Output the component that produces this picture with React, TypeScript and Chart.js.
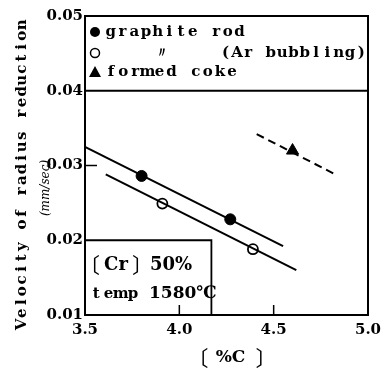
import React, { useEffect, useRef } from 'react';
import { Chart, registerables } from 'chart.js';

Chart.register(...registerables);

// ---- data ----
const graphiteX = [3.8, 4.27];
const graphiteY = [0.0286, 0.0228];
const arX = [3.91, 4.39];
const arY = [0.0249, 0.0188];
const cokeX = [4.6];
const cokeY = [0.032];
const graphiteFitX = [3.5, 4.55];
const graphiteFitY = [0.0325, 0.0192];
const arFitX = [3.61, 4.62];
const arFitY = [0.0288, 0.016];
const cokeFitX = [4.41, 4.82];
const cokeFitY = [0.0342, 0.0289];

const xMin = 3.5;
const xMax = 5.0;
const yMin = 0.01;
const yMax = 0.05;
const xStep = 0.5;
const yStep = 0.01;
const innerXTicks = [4.0, 4.5];
const innerYTicks = [0.03];
const legendTop = 0.04;
const insetRight = 4.17;
const insetTop = 0.02;

const legendText = ['graphite rod', '\u3003', '(Ar bubbling)', 'formed coke'];
const yTitle = 'Velocity of radius reduction';
const yUnit = '(mm/sec)';
const xTitle = ['\u3014', '%C', '\u3015'];
const insetLine1 = ['\u3014', 'Cr', '\u3015', '50%'];
const insetLine2 = ['temp', '1580\u2103'];

const SERIF = '"DejaVu Serif", "Liberation Serif", serif';
const CJK = '"Noto Sans CJK JP", "Noto Sans CJK SC", sans-serif';

function pts(xs: number[], ys: number[]) {
  return xs.map((x, i) => ({ x, y: ys[i] }));
}

function mono(ctx: CanvasRenderingContext2D, text: string, x: number, y: number, cell: number) {
  ctx.textAlign = 'center';
  for (let i = 0; i < text.length; i++) {
    ctx.fillText(text[i], x + cell * (i + 0.5), y);
  }
}

// opening bracket: visible right edge at x; closing bracket: visible left edge at x
function openBracket(ctx: CanvasRenderingContext2D, ch: string, x: number, y: number) {
  ctx.textAlign = 'left';
  const m = ctx.measureText(ch);
  ctx.fillText(ch, x - m.actualBoundingBoxRight, y);
}
function closeBracket(ctx: CanvasRenderingContext2D, ch: string, x: number, y: number) {
  ctx.textAlign = 'left';
  const m = ctx.measureText(ch);
  ctx.fillText(ch, x + m.actualBoundingBoxLeft, y);
}

const decorPlugin = {
  id: 'decor',
  beforeDatasetsDraw(chart: any) {
    const { ctx, chartArea: a, scales } = chart;
    const xs = scales.x;
    const ys = scales.y;
    ctx.save();
    ctx.strokeStyle = '#000';
    ctx.lineWidth = 2;
    ctx.strokeRect(a.left, a.top, a.right - a.left, a.bottom - a.top);
    // legend separator
    const ly = ys.getPixelForValue(legendTop);
    ctx.beginPath();
    ctx.moveTo(a.left, ly);
    ctx.lineTo(a.right, ly);
    ctx.stroke();
    // inset box
    const ix = xs.getPixelForValue(insetRight);
    const iy = ys.getPixelForValue(insetTop);
    ctx.lineWidth = 1.8;
    ctx.beginPath();
    ctx.moveTo(a.left, iy);
    ctx.lineTo(ix, iy);
    ctx.lineTo(ix, a.bottom);
    ctx.stroke();
    // inward ticks
    ctx.lineWidth = 1.5;
    innerXTicks.forEach((v) => {
      const px = xs.getPixelForValue(v);
      ctx.beginPath();
      ctx.moveTo(px, a.bottom);
      ctx.lineTo(px, a.bottom - 10);
      ctx.stroke();
    });
    innerYTicks.forEach((v) => {
      const py = ys.getPixelForValue(v);
      ctx.beginPath();
      ctx.moveTo(a.left, py);
      ctx.lineTo(a.left + 12, py);
      ctx.stroke();
    });
    ctx.restore();
  },
  afterDraw(chart: any) {
    const { ctx, chartArea: a } = chart;
    ctx.save();
    ctx.fillStyle = '#000';
    ctx.strokeStyle = '#000';
    ctx.textBaseline = 'middle';

    // legend
    const mx = a.left + 10;
    const rows = [a.top + 16, a.top + 37, a.top + 56];
    ctx.beginPath();
    ctx.arc(mx, rows[0], 5, 0, Math.PI * 2);
    ctx.fill();
    ctx.beginPath();
    ctx.lineWidth = 1.5;
    ctx.arc(mx, rows[1], 4.5, 0, Math.PI * 2);
    ctx.stroke();
    ctx.beginPath();
    ctx.moveTo(mx, rows[2] - 6);
    ctx.lineTo(mx + 6, rows[2] + 5);
    ctx.lineTo(mx - 6, rows[2] + 5);
    ctx.closePath();
    ctx.fill();

    ctx.font = 'bold 15px ' + SERIF;
    mono(ctx, legendText[0], a.left + 20, rows[0], 11.7);
    ctx.font = 'bold 14px ' + SERIF;
    ctx.textAlign = 'center';
    ctx.fillText(legendText[1], a.left + 77, rows[1]);
    ctx.font = 'bold 15px ' + SERIF;
    mono(ctx, legendText[2], a.left + 135, rows[1], 11.3);
    mono(ctx, legendText[3], a.left + 20, rows[2], 12.1);

    // inset text
    const r1 = a.bottom - 50;
    const r2 = a.bottom - 21;
    ctx.font = '21px ' + CJK;
    openBracket(ctx, insetLine1[0], a.left + 15, r1);
    closeBracket(ctx, insetLine1[2], a.left + 47, r1);
    ctx.font = 'bold 18px ' + SERIF;
    ctx.textAlign = 'center';
    ctx.fillText(insetLine1[1], a.left + 31, r1);
    ctx.textAlign = 'left';
    ctx.fillText(insetLine1[3], a.left + 65, r1);
    ctx.font = 'bold 15px ' + SERIF;
    mono(ctx, insetLine2[0], a.left + 5, r2, 12.3);
    ctx.font = 'bold 17px ' + SERIF;
    ctx.textAlign = 'left';
    ctx.fillText(insetLine2[1], a.left + 64, r2);

    // x title
    const cx = (a.left + a.right) / 2 + 4;
    ctx.font = '21px ' + CJK;
    openBracket(ctx, xTitle[0], cx - 22, 358);
    closeBracket(ctx, xTitle[2], cx + 25, 358);
    ctx.font = 'bold 17px ' + SERIF;
    ctx.textAlign = 'center';
    ctx.fillText(xTitle[1], cx, 358);

    // y title
    ctx.save();
    ctx.translate(22, 330);
    ctx.rotate(-Math.PI / 2);
    ctx.font = 'bold 15px ' + SERIF;
    mono(ctx, yTitle, 0, 0, 11.1);
    ctx.restore();

    ctx.save();
    ctx.translate(46, 188);
    ctx.rotate(-Math.PI / 2);
    ctx.font = 'italic 12px ' + SERIF;
    ctx.textAlign = 'center';
    ctx.fillText(yUnit, 0, 0);
    ctx.restore();

    ctx.restore();
  },
};

export default function App() {
  const ref = useRef<HTMLCanvasElement | null>(null);
  useEffect(() => {
    if (!ref.current) return;
    const chart = new Chart(ref.current, {
      type: 'scatter',
      data: {
        datasets: [
          {
            label: 'graphite fit',
            data: pts(graphiteFitX, graphiteFitY),
            showLine: true,
            borderColor: '#000',
            borderWidth: 2,
            pointRadius: 0,
          },
          {
            label: 'Ar fit',
            data: pts(arFitX, arFitY),
            showLine: true,
            borderColor: '#000',
            borderWidth: 2,
            pointRadius: 0,
          },
          {
            label: 'coke fit',
            data: pts(cokeFitX, cokeFitY),
            showLine: true,
            borderColor: '#000',
            borderWidth: 2,
            borderDash: [8, 5],
            pointRadius: 0,
          },
          {
            label: 'graphite rod',
            data: pts(graphiteX, graphiteY),
            pointStyle: 'circle',
            pointRadius: 5.5,
            backgroundColor: '#000',
            borderColor: '#000',
            borderWidth: 1,
          },
          {
            label: 'graphite rod (Ar bubbling)',
            data: pts(arX, arY),
            pointStyle: 'circle',
            pointRadius: 5,
            backgroundColor: '#fff',
            borderColor: '#000',
            borderWidth: 1.8,
          },
          {
            label: 'formed coke',
            data: pts(cokeX, cokeY),
            pointStyle: 'triangle',
            pointRadius: 7,
            backgroundColor: '#000',
            borderColor: '#000',
            borderWidth: 1,
          },
        ],
      },
      options: {
        animation: false,
        responsive: true,
        maintainAspectRatio: false,
        layout: { padding: { top: 16, right: 23, left: 0, bottom: 0 } },
        plugins: { legend: { display: false }, tooltip: { enabled: false } },
        scales: {
          x: {
            type: 'linear',
            min: xMin,
            max: xMax,
            grid: { display: false, drawTicks: false },
            border: { display: false },
            ticks: {
              stepSize: xStep,
              color: '#000',
              padding: 6,
              font: { family: SERIF, weight: 'bold', size: 15 },
              callback: (v: any) => Number(v).toFixed(1),
            },
            afterFit: (s: any) => {
              s.height = 57;
            },
          },
          y: {
            type: 'linear',
            min: yMin,
            max: yMax,
            grid: { display: false, drawTicks: false },
            border: { display: false },
            ticks: {
              stepSize: yStep,
              color: '#000',
              padding: 2,
              font: { family: SERIF, weight: 'bold', size: 15 },
              callback: (v: any) => Number(v).toFixed(2),
            },
            afterFit: (s: any) => {
              s.width = 85;
            },
          },
        },
      },
      plugins: [decorPlugin],
    } as any);
    return () => chart.destroy();
  }, []);
  return (
    <div style={{ position: 'fixed', left: 0, top: 0, width: 391, height: 372, background: '#fff' }}>
      <canvas ref={ref} />
    </div>
  );
}
